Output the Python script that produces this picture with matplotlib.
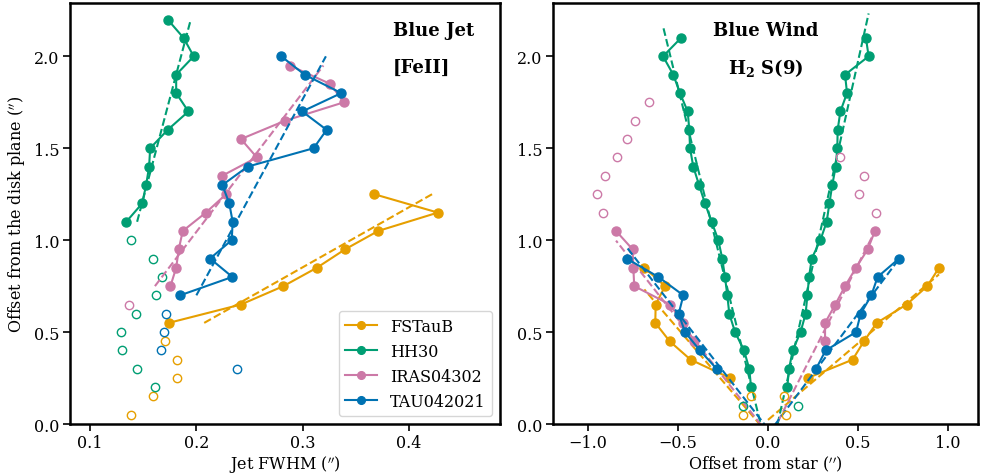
import numpy as np
import matplotlib
matplotlib.use('Agg')
import matplotlib.pyplot as plt

plt.rcParams['font.family'] = 'DejaVu Serif'
plt.rcParams['mathtext.fontset'] = 'dejavuserif'

# colours per source
c_fst = '#E69F00'
c_hh30 = '#009E73'
c_iras = '#CC79A7'
c_tau = '#0072B2'

# ---------------- left panel: jet FWHM vs height ----------------
fst_y = [1.25, 1.15, 1.05, 0.95, 0.85, 0.75, 0.65, 0.55]
fst_w = [0.3675, 0.4274, 0.3712, 0.340, 0.3135, 0.282, 0.242, 0.174]
fst_open_y = [0.45, 0.35, 0.25, 0.15, 0.05]
fst_open_w = [0.1706, 0.1818, 0.1815, 0.159, 0.1386]

hh30_y = [2.2, 2.1, 2.0, 1.9, 1.8, 1.7, 1.6, 1.5, 1.4, 1.3, 1.2, 1.1]
hh30_w = [0.173, 0.188, 0.1975, 0.181, 0.181, 0.1925, 0.173, 0.1565,
          0.1555, 0.1527, 0.149, 0.134]
hh30_open_y = [1.0, 0.9, 0.8, 0.7, 0.6, 0.5, 0.4, 0.3, 0.2]
hh30_open_w = [0.1389, 0.159, 0.1677, 0.1618, 0.1436, 0.1295, 0.1298,
               0.144, 0.161]

iras_y = [1.95, 1.85, 1.75, 1.65, 1.55, 1.45, 1.35, 1.25, 1.15, 1.05,
          0.95, 0.85, 0.75]
iras_w = [0.288, 0.326, 0.339, 0.2837, 0.242, 0.257, 0.2242, 0.228,
          0.209, 0.1872, 0.1834, 0.181, 0.1756]
iras_open_y = [0.65]
iras_open_w = [0.137]

tau_y = [2.0, 1.9, 1.8, 1.7, 1.6, 1.5, 1.4, 1.3, 1.2, 1.1, 1.0, 0.9,
         0.8, 0.7]
tau_w = [0.280, 0.302, 0.3365, 0.2997, 0.3227, 0.3104, 0.2483, 0.2245,
         0.231, 0.2342, 0.2333, 0.2129, 0.2339, 0.1847]
tau_open_y = [0.6, 0.5, 0.4, 0.3]
tau_open_w = [0.1712, 0.1693, 0.1668, 0.238]

# ---------------- right panel: offset from star ----------------
# (negative side, positive side)
fst_r_y = [0.85, 0.75, 0.65, 0.55, 0.45, 0.35, 0.25]
fst_r_neg = [-0.687, -0.572, -0.624, -0.626, -0.546, -0.430, -0.211]
fst_r_pos = [0.950, 0.885, 0.770, 0.604, 0.533, 0.470, 0.220]
fst_ro_neg_y = [0.15, 0.05]
fst_ro_neg = [-0.096, -0.14]
fst_ro_pos_y = [0.15, 0.05]
fst_ro_pos = [0.089, 0.098]

hh30_r_y = [2.1, 2.0, 1.9, 1.8, 1.7, 1.6, 1.5, 1.4, 1.3, 1.2, 1.1, 1.0,
            0.9, 0.8, 0.7, 0.6, 0.5, 0.4, 0.3, 0.2]
hh30_r_neg = [-0.483, -0.583, -0.526, -0.489, -0.446, -0.437, -0.433,
              -0.415, -0.383, -0.350, -0.313, -0.276, -0.254, -0.239,
              -0.226, -0.215, -0.183, -0.133, -0.104, -0.094]
hh30_r_pos = [0.544, 0.559, 0.428, 0.439, 0.402, 0.387, 0.385, 0.376,
              0.357, 0.341, 0.326, 0.291, 0.243, 0.228, 0.219, 0.209,
              0.181, 0.137, 0.117, 0.107]
hh30_ro_y = [0.1]
hh30_ro_neg = [-0.14]
hh30_ro_pos = [0.165]

iras_r_y = [1.05, 0.95, 0.85, 0.75, 0.65, 0.55, 0.45]
iras_r_neg = [-0.844, -0.752, -0.748, -0.743, -0.544, -0.474, -0.411]
iras_r_pos = [0.594, 0.554, 0.489, 0.428, 0.374, 0.317, 0.317]
iras_ro_neg_y = [1.75, 1.65, 1.55, 1.45, 1.35, 1.25, 1.15]
iras_ro_neg = [-0.661, -0.741, -0.785, -0.841, -0.904, -0.948, -0.917]
iras_ro_pos_y = [1.45, 1.35, 1.25, 1.15]
iras_ro_pos = [0.40, 0.535, 0.507, 0.60]

tau_r_y = [0.9, 0.8, 0.7, 0.6, 0.5, 0.4, 0.3]
tau_r_neg = [-0.785, -0.609, -0.470, -0.496, -0.461, -0.378, -0.285]
tau_r_pos = [0.728, 0.609, 0.574, 0.515, 0.489, 0.320, 0.267]

fig = plt.figure(figsize=(9.83, 4.77), dpi=100)
ax = fig.add_axes([0.0712, 0.109, 0.4375, 0.8826])
bx = fig.add_axes([0.5626, 0.109, 0.4324, 0.8826])

ms = 6.5
mso = 6

left_sets = [
    ('FSTauB', c_fst, fst_w, fst_y, fst_open_w, fst_open_y),
    ('HH30', c_hh30, hh30_w, hh30_y, hh30_open_w, hh30_open_y),
    ('IRAS04302', c_iras, iras_w, iras_y, iras_open_w, iras_open_y),
    ('TAU042021', c_tau, tau_w, tau_y, tau_open_w, tau_open_y),
]
for name, col, w, y, wo, yo in left_sets:
    ax.plot(w, y, '-o', color=col, ms=ms, lw=1.5, label=name)
    ax.plot(wo, yo, 'o', mfc='none', mec=col, ms=mso, mew=1.0)
    # linear fit of width against height, over the filled points
    p = np.polyfit(y, w, 1)
    yy = np.array([min(y), max(y)])
    ax.plot(np.polyval(p, yy), yy, '--', color=col, lw=1.5)

ax.set_xlim(0.081, 0.486)
ax.set_ylim(0, 2.29)
ax.set_xlabel("Jet FWHM ($''$)", fontsize=11.5, labelpad=1.5)
ax.set_ylabel("Offset from the disk plane ($''$)", fontsize=11.5)
ax.text(0.845, 0.937, 'Blue Jet', transform=ax.transAxes, ha='center',
        va='center', fontsize=13, fontweight='bold')
ax.text(0.818, 0.848, '[FeII]', transform=ax.transAxes, ha='center',
        va='center', fontsize=13, fontweight='bold')
leg = ax.legend(loc='lower right', fontsize=11.5, markerscale=0.85)

right_sets = [
    (c_fst, fst_r_y, fst_r_neg, fst_r_pos),
    (c_hh30, hh30_r_y, hh30_r_neg, hh30_r_pos),
    (c_iras, iras_r_y, iras_r_neg, iras_r_pos),
    (c_tau, tau_r_y, tau_r_neg, tau_r_pos),
]
for col, y, xn, xp in right_sets:
    for xs in (xn, xp):
        bx.plot(xs, y, '-o', color=col, ms=ms, lw=1.5)
        # fit height against offset, drawn from the star outwards
        p = np.polyfit(xs, y, 1)
        xx = np.linspace(0, xs[np.argmax(np.abs(xs))], 50)
        bx.plot(xx, np.polyval(p, xx), '--', color=col, lw=1.5)

bx.plot(fst_ro_neg, fst_ro_neg_y, 'o', mfc='none', mec=c_fst, ms=mso, mew=1.0)
bx.plot(fst_ro_pos, fst_ro_pos_y, 'o', mfc='none', mec=c_fst, ms=mso, mew=1.0)
bx.plot(hh30_ro_neg, hh30_ro_y, 'o', mfc='none', mec=c_hh30, ms=mso, mew=1.0)
bx.plot(hh30_ro_pos, hh30_ro_y, 'o', mfc='none', mec=c_hh30, ms=mso, mew=1.0)
bx.plot(iras_ro_neg, iras_ro_neg_y, 'o', mfc='none', mec=c_iras, ms=mso, mew=1.0)
bx.plot(iras_ro_pos, iras_ro_pos_y, 'o', mfc='none', mec=c_iras, ms=mso, mew=1.0)

bx.set_xlim(-1.194, 1.167)
bx.set_ylim(0, 2.29)
bx.set_xticks([-1.0, -0.5, 0.0, 0.5, 1.0])
bx.set_xlabel("Offset from star ($''$)", fontsize=11.5, labelpad=1.5)
bx.text(0.5, 0.937, 'Blue Wind', transform=bx.transAxes, ha='center',
        va='center', fontsize=13, fontweight='bold')
bx.text(0.5, 0.848, r'$\mathbf{H_2}$ S(9)', transform=bx.transAxes,
        ha='center', va='center', fontsize=13, fontweight='bold')

for a in (ax, bx):
    a.set_yticks([0.0, 0.5, 1.0, 1.5, 2.0])
    a.tick_params(labelsize=11.5, width=1.2, length=5, pad=2.5)
    for s in a.spines.values():
        s.set_linewidth(1.8)

fig.savefig('out.png', dpi=100)
